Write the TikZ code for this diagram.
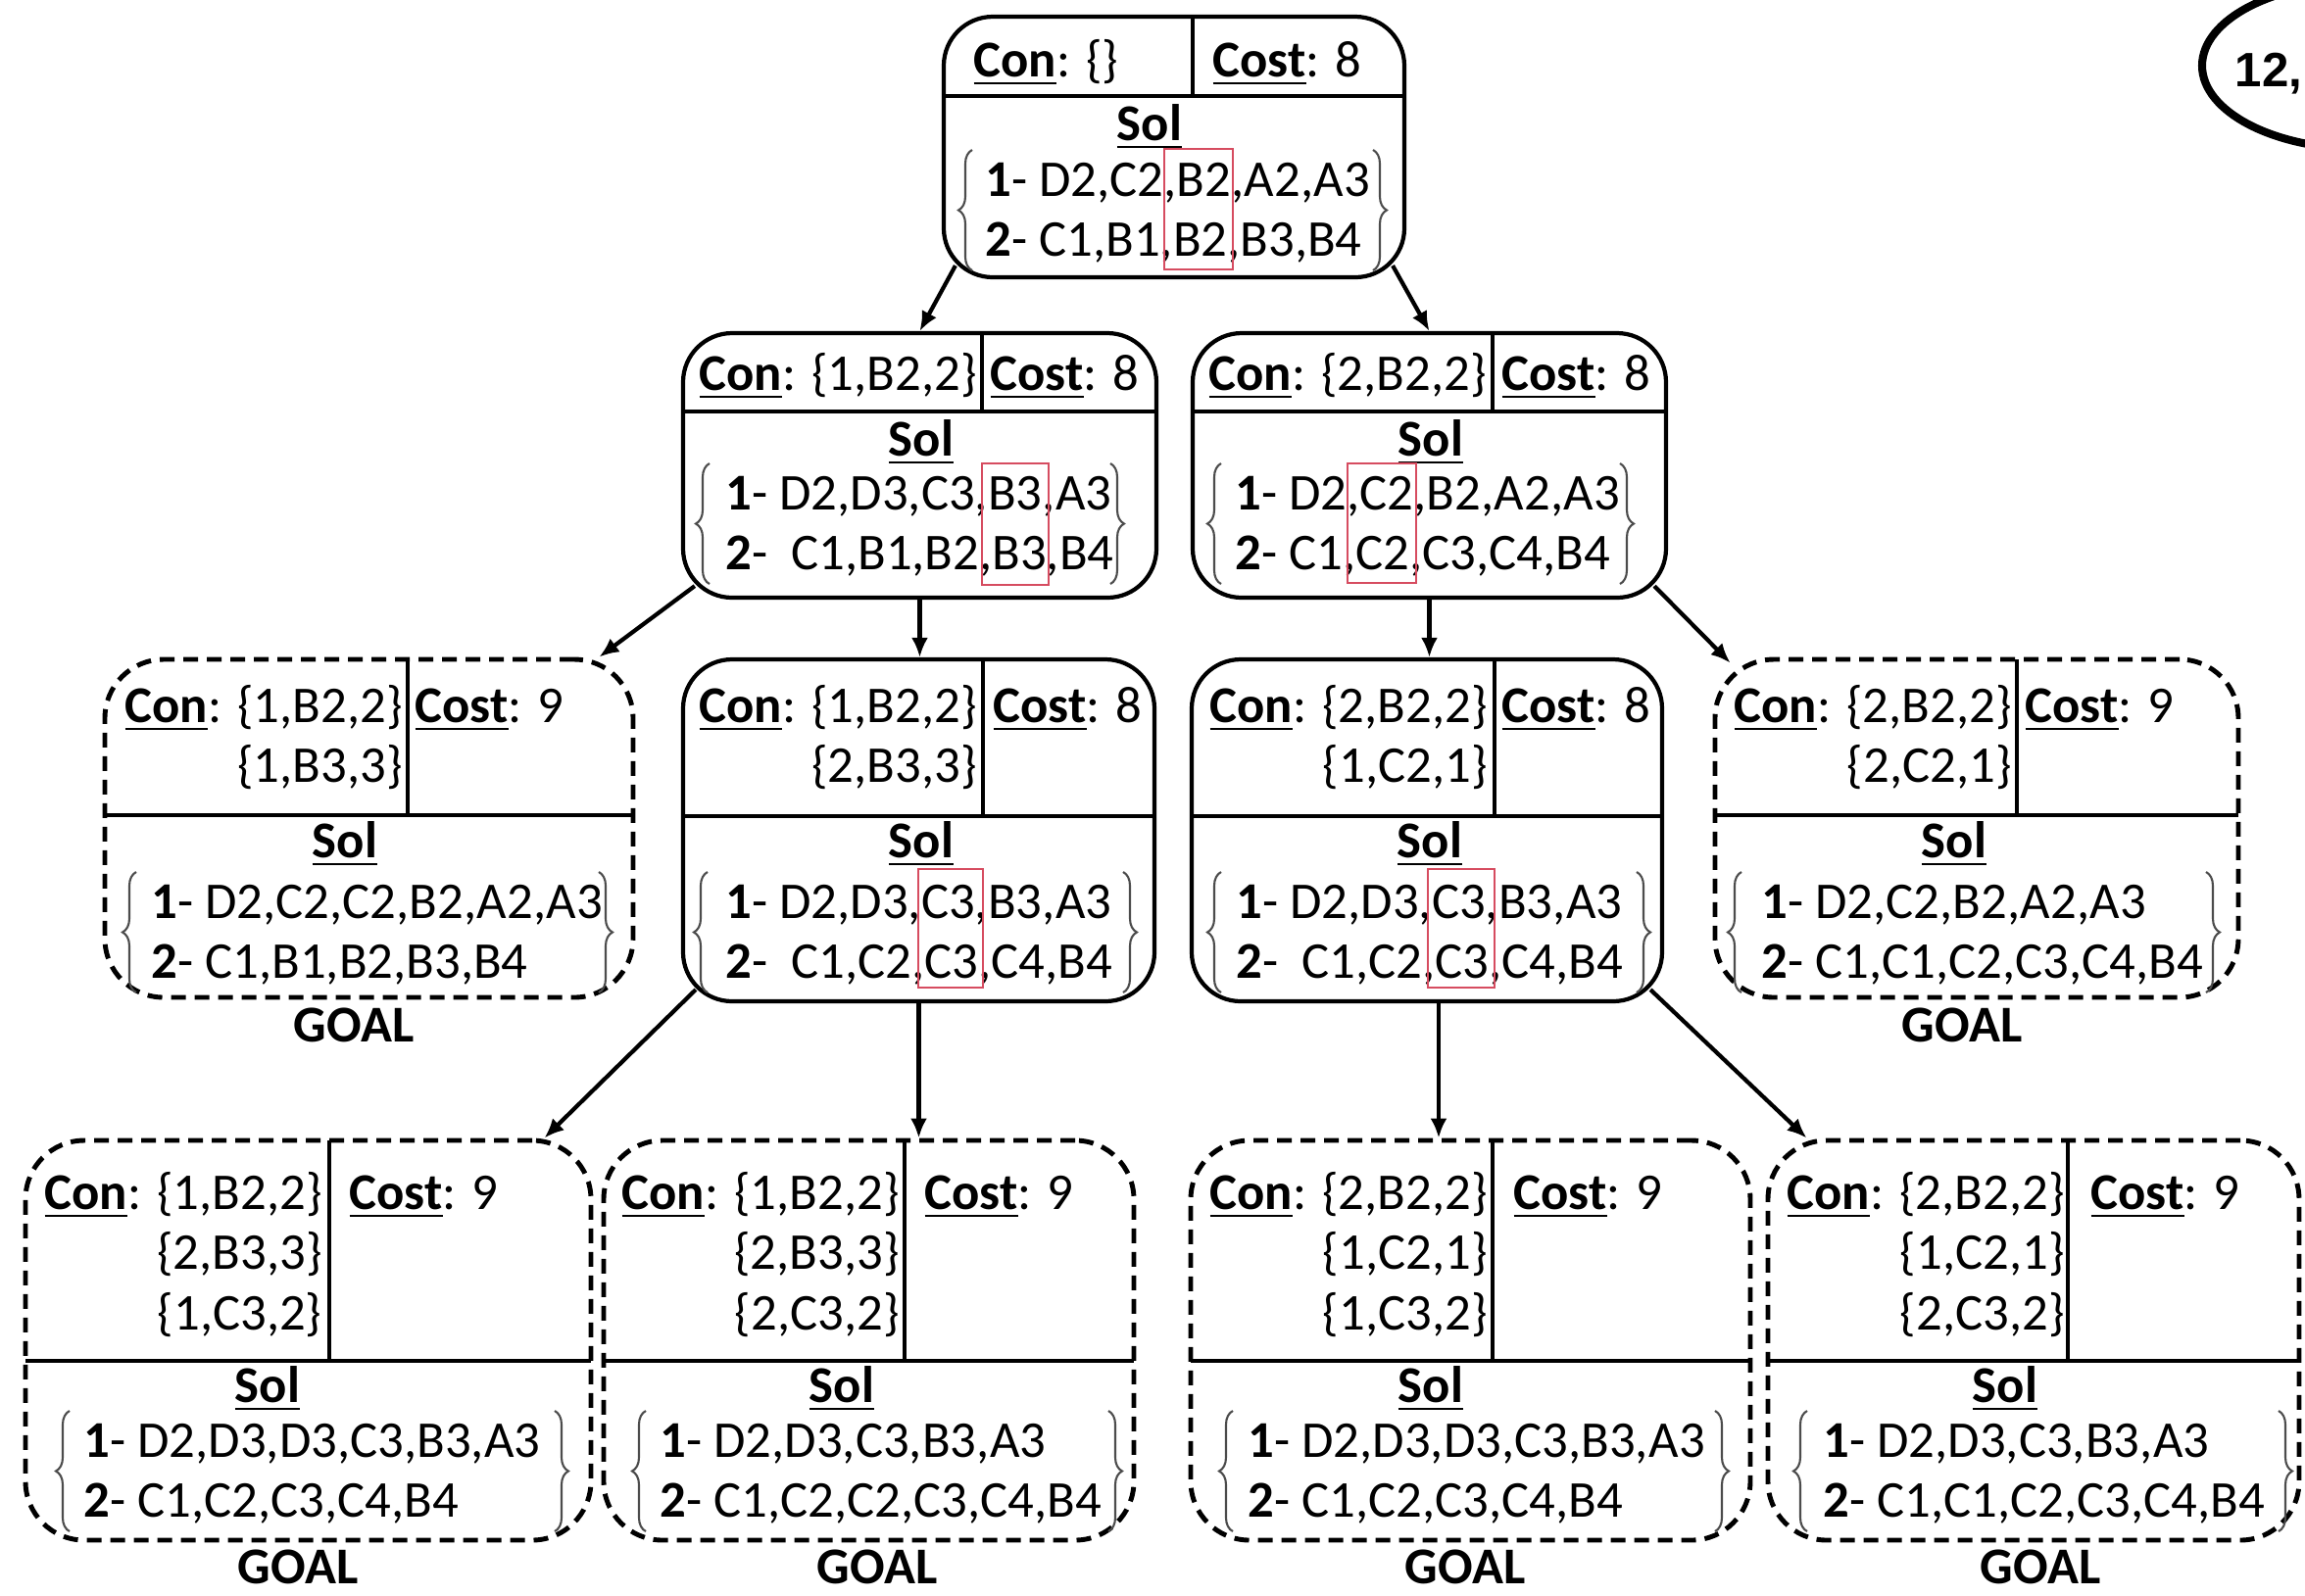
\documentclass[tikz,border=0pt]{standalone}
\usepackage{fontspec}
\setmainfont{Carlito}
\newfontfamily\tagfont{Liberation Sans}
\usetikzlibrary{fit,shapes.geometric,decorations.pathreplacing,arrows.meta}
\definecolor{hlred}{RGB}{214,76,96}
\newcommand\ulb[1]{\setbox0\hbox{\textbf{#1}}\rlap{\rule[-2.4pt]{\wd0}{0.8pt}}\box0}
\newcommand\solrows[2]{\begin{tabular}[t]{@{}l@{}}#1\\#2\end{tabular}}
\newcommand\conrows[1]{\begin{tabular}[t]{@{}r@{}}#1\end{tabular}}
\begin{document}
\begin{tikzpicture}[x=0.1mm, y=-0.1mm,
    font=\fontsize{15}{17.5}\selectfont,
    ct/.style={draw, rounded corners=5mm, line width=1.2pt, inner sep=0pt},
    goal/.style={ct, rounded corners=6mm, line width=1.4pt, dash pattern=on 1.5mm off 0.9mm},
    divline/.style={line width=1.2pt},
    txt/.style={anchor=base west, inner sep=0pt},
    ctr/.style={anchor=base, inner sep=0pt},
    brc/.style={decorate, decoration={brace, amplitude=1.4mm}, line width=0.6pt, black!70},
    hl/.style={draw=hlred, line width=0.8pt},
    arr/.style={line width=1.2pt, -{Latex[length=2mm, width=1.7mm]}}]
    \useasboundingbox (0,0) rectangle (2352,1628);

    \foreach \nm/\xl/\yt/\xr/\yb/\yh/\xv/\sty in {
        root/963/17/1433/283/98/1217/ct,
        n1/697/340/1180/610/420/1002/ct,
        n2/1217/340/1700/610/420/1523/ct,
        n11/107/673/646/1018/832/416/goal,
        n12/697/673/1178/1022/833/1003/ct,
        n21/1216/673/1696/1022/833/1525/ct,
        n22/1750/673/2284/1018/832/2058/goal,
        n121/26/1164/603/1572/1389/336/goal,
        n122/616/1164/1157/1572/1389/923/goal,
        n211/1215/1164/1786/1572/1389/1523/goal,
        n212/1804/1164/2346/1572/1389/2110/goal} {
        \node[\sty, fit={(\xl,\yt) (\xr,\yb)}] (\nm) {};
        \draw[divline] (\xl,\yh) -- (\xr,\yh);
        \draw[divline] (\xv,\yt) -- (\xv,\yh);
    }

    \node[txt] (rootcon) at (993,78) {\conrows{\ulb{Con}: \{\}}};
    \node[txt] (rootcost) at (1237,78) {\ulb{Cost}: 8};
    \node[ctr] (rootsol) at (1173,143) {\ulb{Sol}};
    \node[txt] (rootrows) at (1005,200) {\solrows{\textbf{1}- D2,C2,B2,A2,A3}{\textbf{2}- C1,B1,B2,B3,B4}};

    \node[txt] (n1con) at (713,398) {\conrows{\ulb{Con}: \{1,B2,2\}}};
    \node[txt] (n1cost) at (1010,398) {\ulb{Cost}: 8};
    \node[ctr] (n1sol) at (940,465) {\ulb{Sol}};
    \node[txt] (n1rows) at (740,520) {\solrows{\textbf{1}- D2,D3,C3,B3,A3}{\textbf{2}-~~C1,B1,B2,B3,B4}};

    \node[txt] (n2con) at (1233,398) {\conrows{\ulb{Con}: \{2,B2,2\}}};
    \node[txt] (n2cost) at (1532,398) {\ulb{Cost}: 8};
    \node[ctr] (n2sol) at (1460,465) {\ulb{Sol}};
    \node[txt] (n2rows) at (1260,520) {\solrows{\textbf{1}- D2,C2,B2,A2,A3}{\textbf{2}- C1,C2,C3,C4,B4}};

    \node[txt] (n11con) at (127,737) {\conrows{\ulb{Con}: \{1,B2,2\}\\ \{1,B3,3\}}};
    \node[txt] (n11cost) at (423,737) {\ulb{Cost}: 9};
    \node[ctr] (n11sol) at (352,875) {\ulb{Sol}};
    \node[txt] (n11rows) at (154,937) {\solrows{\textbf{1}- D2,C2,C2,B2,A2,A3}{\textbf{2}- C1,B1,B2,B3,B4}};
    \node[ctr] (n11goal) at (361,1063) {\textbf{GOAL}};

    \node[txt] (n12con) at (713,737) {\conrows{\ulb{Con}: \{1,B2,2\}\\ \{2,B3,3\}}};
    \node[txt] (n12cost) at (1013,737) {\ulb{Cost}: 8};
    \node[ctr] (n12sol) at (940,875) {\ulb{Sol}};
    \node[txt] (n12rows) at (740,937) {\solrows{\textbf{1}- D2,D3,C3,B3,A3}{\textbf{2}-~~C1,C2,C3,C4,B4}};

    \node[txt] (n21con) at (1234,737) {\conrows{\ulb{Con}: \{2,B2,2\}\\ \{1,C2,1\}}};
    \node[txt] (n21cost) at (1532,737) {\ulb{Cost}: 8};
    \node[ctr] (n21sol) at (1459,875) {\ulb{Sol}};
    \node[txt] (n21rows) at (1261,937) {\solrows{\textbf{1}- D2,D3,C3,B3,A3}{\textbf{2}-~~C1,C2,C3,C4,B4}};

    \node[txt] (n22con) at (1769,737) {\conrows{\ulb{Con}: \{2,B2,2\}\\ \{2,C2,1\}}};
    \node[txt] (n22cost) at (2066,737) {\ulb{Cost}: 9};
    \node[ctr] (n22sol) at (1994,875) {\ulb{Sol}};
    \node[txt] (n22rows) at (1797,937) {\solrows{\textbf{1}- D2,C2,B2,A2,A3}{\textbf{2}- C1,C1,C2,C3,C4,B4}};
    \node[ctr] (n22goal) at (2002,1063) {\textbf{GOAL}};

    \node[txt] (n121con) at (45,1234) {\conrows{\ulb{Con}: \{1,B2,2\}\\ \{2,B3,3\}\\ \{1,C3,2\}}};
    \node[txt] (n121cost) at (356,1234) {\ulb{Cost}: 9};
    \node[ctr] (n121sol) at (273,1431) {\ulb{Sol}};
    \node[txt] (n121rows) at (85,1487) {\solrows{\textbf{1}- D2,D3,D3,C3,B3,A3}{\textbf{2}- C1,C2,C3,C4,B4}};
    \node[ctr] (n121goal) at (304,1616) {\textbf{GOAL}};

    \node[txt] (n122con) at (634,1234) {\conrows{\ulb{Con}: \{1,B2,2\}\\ \{2,B3,3\}\\ \{2,C3,2\}}};
    \node[txt] (n122cost) at (943,1234) {\ulb{Cost}: 9};
    \node[ctr] (n122sol) at (859,1431) {\ulb{Sol}};
    \node[txt] (n122rows) at (673,1487) {\solrows{\textbf{1}- D2,D3,C3,B3,A3}{\textbf{2}- C1,C2,C2,C3,C4,B4}};
    \node[ctr] (n122goal) at (895,1616) {\textbf{GOAL}};

    \node[txt] (n211con) at (1234,1234) {\conrows{\ulb{Con}: \{2,B2,2\}\\ \{1,C2,1\}\\ \{1,C3,2\}}};
    \node[txt] (n211cost) at (1544,1234) {\ulb{Cost}: 9};
    \node[ctr] (n211sol) at (1460,1431) {\ulb{Sol}};
    \node[txt] (n211rows) at (1273,1487) {\solrows{\textbf{1}- D2,D3,D3,C3,B3,A3}{\textbf{2}- C1,C2,C3,C4,B4}};
    \node[ctr] (n211goal) at (1495,1616) {\textbf{GOAL}};

    \node[txt] (n212con) at (1823,1234) {\conrows{\ulb{Con}: \{2,B2,2\}\\ \{1,C2,1\}\\ \{2,C3,2\}}};
    \node[txt] (n212cost) at (2133,1234) {\ulb{Cost}: 9};
    \node[ctr] (n212sol) at (2046,1431) {\ulb{Sol}};
    \node[txt] (n212rows) at (1860,1487) {\solrows{\textbf{1}- D2,D3,C3,B3,A3}{\textbf{2}- C1,C1,C2,C3,C4,B4}};
    \node[ctr] (n212goal) at (2082,1616) {\textbf{GOAL}};

    \foreach \xa/\xb/\yy in {992/1401/200, 724/1133/520, 1246/1653/520, 139/611/937, 722/1146/937,
        1246/1670/937, 1777/2251/937, 71/566/1487, 659/1131/1487, 1258/1750/1487, 1844/2325/1487} {
        \draw[brc] (\xa,\yy+76) -- (\xa,\yy-47);
        \draw[brc] (\xb,\yy-47) -- (\xb,\yy+76);
    }

    \draw[hl] (1188,152) rectangle (1258,275);
    \draw[hl] (1002,473) rectangle (1070,597);
    \draw[hl] (1375,473) rectangle (1445,595);
    \draw[hl] (937,887) rectangle (1003,1008);
    \draw[hl] (1457,887) rectangle (1525,1008);

    \draw[arr] ([shift={(14,-14)}]root.south west) -- (n1.north);
    \draw[arr] ([shift={(-14,-14)}]root.south east) -- (n2.north);
    \draw[arr] ([shift={(14,-14)}]n1.south west) -- ([shift={(-37,0)}]n11.north east);
    \draw[arr] (n1.south) -- (n1.south |- n12.north);
    \draw[arr] (n2.south) -- (n2.south |- n21.north);
    \draw[arr] ([shift={(-14,-14)}]n2.south east) -- ([shift={(18,6)}]n22.north west);
    \draw[arr] ([shift={(15,-14)}]n12.south west) -- ([shift={(-50,0)}]n121.north east);
    \draw[arr] (n12.south) -- (n12.south |- n122.north);
    \draw[arr] ([shift={(12,0)}]n21.south) -- ([shift={(12,0)}]n21.south |- n211.north);
    \draw[arr] ([shift={(-14,-14)}]n21.south east) -- ([shift={(42,0)}]n212.north west);

    \node[draw, ellipse, line width=2.3pt, minimum width=32.6mm, minimum height=17mm, inner sep=0pt] (tag) at (2410,67) {};
    \node[anchor=base west, inner sep=0pt, font=\tagfont\bfseries\fontsize{14}{16}\selectfont] (tagtxt) at (2280,88) {12,};
\end{tikzpicture}
\end{document}
